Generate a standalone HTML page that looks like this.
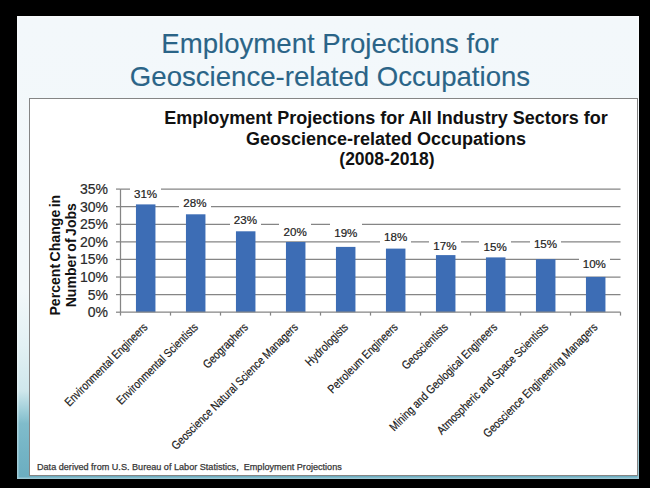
<!DOCTYPE html>
<html><head><meta charset="utf-8">
<style>
html,body{margin:0;padding:0;}
body{width:650px;height:488px;background:#000;position:relative;overflow:hidden;font-family:"Liberation Sans",sans-serif;}
.slide{position:absolute;left:17px;top:16px;width:622px;height:463px;box-shadow:inset 0 0 0 1.5px rgba(255,255,255,0.35);
 background:linear-gradient(to bottom,#f3f8fb 0%,#f2f8fa 59%,#e3f1f4 71%,#cfe7ec 81%,#a2d0da 85%,#80bccb 88%,#74b4c5 94%,#6badc0 100%);}
.title{position:absolute;left:0;width:660px;text-align:center;color:#2a6487;font-size:27.6px;white-space:nowrap;-webkit-text-stroke:0.12px #2a6487;}
.chart{position:absolute;left:29.3px;top:98.4px;width:608.6px;height:377.8px;box-sizing:border-box;border:1.5px solid #858585;background:#fff;}
.ab{position:absolute;white-space:nowrap;}
.ct{position:absolute;left:86px;width:600px;text-align:center;font-weight:bold;font-size:18px;color:#111;white-space:nowrap;}
.grid{position:absolute;left:120px;width:500px;height:1.2px;background:#868686;}
.bar{position:absolute;width:19.5px;background:#3d6db5;}
.ylab{position:absolute;right:542px;font-size:14px;color:#2a2a2a;text-align:right;-webkit-text-stroke:0.2px #2a2a2a;}
.dl{position:absolute;width:31.5px;height:17px;box-sizing:border-box;padding-top:1.98px;line-height:16px;background:#fff;text-align:center;font-size:11.6px;color:#222;white-space:nowrap;-webkit-text-stroke:0.2px #222;}
.xl{position:absolute;font-size:11.9px;color:#1a1a1a;white-space:nowrap;transform-origin:100% 50%;transform:rotate(-45deg) scaleX(0.84);-webkit-text-stroke:0.2px #1a1a1a;}
.yt{position:absolute;font-weight:bold;font-size:14.1px;word-spacing:-1.5px;color:#111;white-space:nowrap;text-align:center;width:200px;transform:rotate(-90deg);}
.foot{position:absolute;left:37px;top:462px;font-size:9.1px;color:#383838;white-space:nowrap;-webkit-text-stroke:0.25px #383838;}
</style></head><body>
<div class="slide"></div>
<div class="title" style="top:27.3px;line-height:33px;">Employment Projections for<br>Geoscience-related Occupations</div>
<div class="chart"></div>
<div class="ct" style="top:107.8px;line-height:20.85px;">Employment Projections for All Industry Sectors for<br>Geoscience-related Occupations<br><span style="position:relative;left:1px;font-size:17.5px">(2008-2018)</span></div>
<div class="yt" style="left:-37.5px;top:239px;line-height:16.2px;">Percent Change in<br>Number of Jobs</div>
<svg class="ab" style="left:0;top:0" width="650" height="488" viewBox="0 0 650 488">
<line x1="120.5" y1="294.61" x2="620.5" y2="294.61" stroke="#858585" stroke-width="1.25"/>
<line x1="120.5" y1="277.03" x2="620.5" y2="277.03" stroke="#858585" stroke-width="1.25"/>
<line x1="120.5" y1="259.44" x2="620.5" y2="259.44" stroke="#858585" stroke-width="1.25"/>
<line x1="120.5" y1="241.85" x2="620.5" y2="241.85" stroke="#858585" stroke-width="1.25"/>
<line x1="120.5" y1="224.26" x2="620.5" y2="224.26" stroke="#858585" stroke-width="1.25"/>
<line x1="120.5" y1="206.68" x2="620.5" y2="206.68" stroke="#858585" stroke-width="1.25"/>
<line x1="120.5" y1="189.09" x2="620.5" y2="189.09" stroke="#858585" stroke-width="1.25"/>
<rect x="135.95" y="204.40" width="19.5" height="107.80" fill="#3d6db5"/>
<rect x="185.95" y="214.30" width="19.5" height="97.90" fill="#3d6db5"/>
<rect x="235.95" y="231.30" width="19.5" height="80.90" fill="#3d6db5"/>
<rect x="285.95" y="242.00" width="19.5" height="70.20" fill="#3d6db5"/>
<rect x="335.95" y="246.90" width="19.5" height="65.30" fill="#3d6db5"/>
<rect x="385.95" y="248.60" width="19.5" height="63.60" fill="#3d6db5"/>
<rect x="435.95" y="255.10" width="19.5" height="57.10" fill="#3d6db5"/>
<rect x="485.95" y="257.40" width="19.5" height="54.80" fill="#3d6db5"/>
<rect x="535.95" y="259.20" width="19.5" height="53.00" fill="#3d6db5"/>
<rect x="585.95" y="276.90" width="19.5" height="35.30" fill="#3d6db5"/>
<line x1="120.5" y1="189.09" x2="120.5" y2="312.20" stroke="#858585" stroke-width="1.25"/>
<line x1="120.5" y1="312.20" x2="620.5" y2="312.20" stroke="#858585" stroke-width="1.25"/>
<line x1="116" y1="312.20" x2="120.5" y2="312.20" stroke="#858585" stroke-width="1.25"/>
<line x1="116" y1="294.61" x2="120.5" y2="294.61" stroke="#858585" stroke-width="1.25"/>
<line x1="116" y1="277.03" x2="120.5" y2="277.03" stroke="#858585" stroke-width="1.25"/>
<line x1="116" y1="259.44" x2="120.5" y2="259.44" stroke="#858585" stroke-width="1.25"/>
<line x1="116" y1="241.85" x2="120.5" y2="241.85" stroke="#858585" stroke-width="1.25"/>
<line x1="116" y1="224.26" x2="120.5" y2="224.26" stroke="#858585" stroke-width="1.25"/>
<line x1="116" y1="206.68" x2="120.5" y2="206.68" stroke="#858585" stroke-width="1.25"/>
<line x1="116" y1="189.09" x2="120.5" y2="189.09" stroke="#858585" stroke-width="1.25"/>
<line x1="120.50" y1="312.20" x2="120.50" y2="315.6" stroke="#858585" stroke-width="1.25"/>
<line x1="170.50" y1="312.20" x2="170.50" y2="315.6" stroke="#858585" stroke-width="1.25"/>
<line x1="220.50" y1="312.20" x2="220.50" y2="315.6" stroke="#858585" stroke-width="1.25"/>
<line x1="270.50" y1="312.20" x2="270.50" y2="315.6" stroke="#858585" stroke-width="1.25"/>
<line x1="320.50" y1="312.20" x2="320.50" y2="315.6" stroke="#858585" stroke-width="1.25"/>
<line x1="370.50" y1="312.20" x2="370.50" y2="315.6" stroke="#858585" stroke-width="1.25"/>
<line x1="420.50" y1="312.20" x2="420.50" y2="315.6" stroke="#858585" stroke-width="1.25"/>
<line x1="470.50" y1="312.20" x2="470.50" y2="315.6" stroke="#858585" stroke-width="1.25"/>
<line x1="520.50" y1="312.20" x2="520.50" y2="315.6" stroke="#858585" stroke-width="1.25"/>
<line x1="570.50" y1="312.20" x2="570.50" y2="315.6" stroke="#858585" stroke-width="1.25"/>
<line x1="620.50" y1="312.20" x2="620.50" y2="315.6" stroke="#858585" stroke-width="1.25"/>
</svg>
<div class="ylab" style="top:304.20px;line-height:16px">0%</div>
<div class="ylab" style="top:286.61px;line-height:16px">5%</div>
<div class="ylab" style="top:269.03px;line-height:16px">10%</div>
<div class="ylab" style="top:251.44px;line-height:16px">15%</div>
<div class="ylab" style="top:233.85px;line-height:16px">20%</div>
<div class="ylab" style="top:216.26px;line-height:16px">25%</div>
<div class="ylab" style="top:198.68px;line-height:16px">30%</div>
<div class="ylab" style="top:181.09px;line-height:16px">35%</div>
<div class="dl" style="left:129.80px;top:183.70px">31%</div>
<div class="dl" style="left:179.20px;top:193.00px">28%</div>
<div class="dl" style="left:229.60px;top:210.00px">23%</div>
<div class="dl" style="left:279.45px;top:222.20px">20%</div>
<div class="dl" style="left:330.05px;top:223.20px">19%</div>
<div class="dl" style="left:379.95px;top:227.00px">18%</div>
<div class="dl" style="left:429.15px;top:236.20px">17%</div>
<div class="dl" style="left:479.45px;top:236.70px">15%</div>
<div class="dl" style="left:529.75px;top:234.00px">15%</div>
<div class="dl" style="left:578.55px;top:253.70px">10%</div>
<div class="xl" style="right:504.00px;top:319.00px;line-height:13px">Environmental Engineers</div>
<div class="xl" style="right:454.00px;top:319.00px;line-height:13px">Environmental Scientists</div>
<div class="xl" style="right:404.00px;top:319.00px;line-height:13px">Geographers</div>
<div class="xl" style="right:354.00px;top:319.00px;line-height:13px">Geoscience Natural Science Managers</div>
<div class="xl" style="right:304.00px;top:319.00px;line-height:13px">Hydrologists</div>
<div class="xl" style="right:254.00px;top:319.00px;line-height:13px">Petroleum Engineers</div>
<div class="xl" style="right:204.00px;top:319.00px;line-height:13px">Geoscientists</div>
<div class="xl" style="right:154.00px;top:319.00px;line-height:13px">Mining and Geological Engineers</div>
<div class="xl" style="right:104.00px;top:319.00px;line-height:13px">Atmospheric and Space Scientists</div>
<div class="xl" style="right:54.00px;top:319.00px;line-height:13px">Geoscience Engineering Managers</div>

<div class="foot">Data derived from U.S. Bureau of Labor Statistics,&nbsp; Employment Projections</div>
</body></html>
